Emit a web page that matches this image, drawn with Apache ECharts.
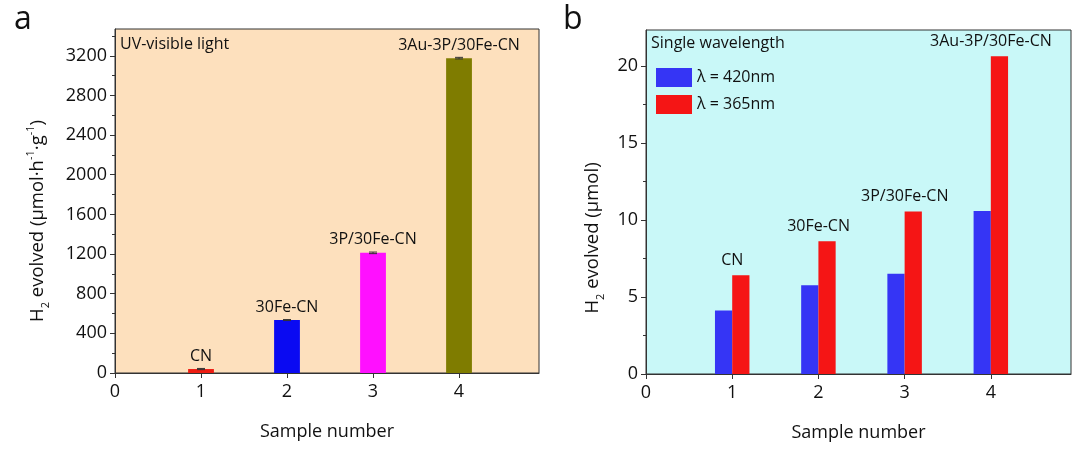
<!DOCTYPE html>
<html><head><meta charset="utf-8">
<script src="https://cdn.jsdelivr.net/npm/echarts@6/dist/echarts.min.js"></script>
<style>html,body{margin:0;padding:0;background:#fff}#c{width:1084px;height:450px}</style>
</head><body><div id="c"></div>
<script>
// ---- data ----
const sampleA = [1, 2, 3, 4];
const namesA = ['CN', '30Fe-CN', '3P/30Fe-CN', '3Au-3P/30Fe-CN'];
const valuesA = [40, 534, 1212, 3176];
const errorsA = [6, 5, 8, 8];
const colorsA = ['#ee1c12', '#0a0af2', '#ff10ff', '#7f7c00'];

const sampleB = [1, 2, 3, 4];
const namesB = ['CN', '30Fe-CN', '3P/30Fe-CN', '3Au-3P/30Fe-CN'];
const blue420 = [4.13, 5.76, 6.52, 10.59];
const red365 = [6.41, 8.63, 10.55, 20.64];
const legendNames = ['λ = 420nm', 'λ = 365nm'];

const xTicks = [0, 1, 2, 3, 4];
const yTicksA = [0, 400, 800, 1200, 1600, 2000, 2400, 2800, 3200];
const yTicksB = [0, 5, 10, 15, 20];

// ---- chart ----
const FONT = 'Open Sans';
const chart = echarts.init(document.getElementById('c'), null, {renderer: 'canvas'});

function xAxisCfg(gridIndex) {
  return {
    type: 'value', gridIndex, min: 0, max: 4.93, interval: 1,
    name: 'Sample number', nameLocation: 'middle', nameGap: 50,
    nameTextStyle: {fontFamily: FONT, fontSize: 18, color: '#111'},
    axisLine: {show: true, lineStyle: {color: '#333', width: 1}},
    axisTick: {show: true, length: 5, inside: false, customValues: xTicks, lineStyle: {color: '#333'}},
    axisLabel: {customValues: xTicks, margin: 10, fontFamily: FONT, fontSize: 18, color: '#111',
      formatter: v => String(v)},
    splitLine: {show: false}
  };
}
function yAxisCfg(gridIndex, max, interval, ticks) {
  return {
    type: 'value', gridIndex, min: 0, max, interval,
    axisLine: {show: true, lineStyle: {color: '#333', width: 1}},
    axisTick: {show: true, length: 5, inside: false, customValues: ticks, lineStyle: {color: '#333'}},
    minorTick: {show: true, splitNumber: 2, length: 3, lineStyle: {color: '#333'}},
    axisLabel: {customValues: ticks, margin: 8, fontFamily: FONT, fontSize: 18, color: '#111',
      formatter: v => String(v)},
    splitLine: {show: false}, minorSplitLine: {show: false}
  };
}

const errRender = function (params, api) {
  const x = api.value(0), y = api.value(1), e = api.value(2);
  const t = api.coord([x, y + e]);
  const b = api.coord([x, y - e]);
  const w = 4;
  const st = {stroke: '#333', lineWidth: 1};
  return {type: 'group', children: [
    {type: 'line', shape: {x1: t[0], y1: t[1], x2: b[0], y2: b[1]}, style: st},
    {type: 'line', shape: {x1: t[0] - w, y1: t[1], x2: t[0] + w, y2: t[1]}, style: st},
    {type: 'line', shape: {x1: b[0] - w, y1: b[1], x2: b[0] + w, y2: b[1]}, style: st}
  ]};
};

const labelStyle = {fontFamily: FONT, fontSize: 16, color: '#111'};

const option = {
  animation: false,
  backgroundColor: '#fff',
  grid: [
    {left: 115, top: 29, right: 545, bottom: 77, show: true, backgroundColor: '#fde0bd', borderColor: '#333', borderWidth: 1},
    {left: 646, top: 30, right: 13, bottom: 76, show: true, backgroundColor: '#c9f8f8', borderColor: '#333', borderWidth: 1}
  ],
  xAxis: [xAxisCfg(0), xAxisCfg(1)],
  yAxis: [yAxisCfg(0, 3470, 400, yTicksA), yAxisCfg(1, 22.35, 5, yTicksB)],
  legend: {
    data: legendNames, orient: 'vertical', left: 651, top: 63, itemGap: 8,
    itemWidth: 36, itemHeight: 19, icon: 'rect',
    textStyle: {fontFamily: FONT, fontSize: 16, color: '#111'}
  },
  series: [
    {
      type: 'bar', name: 'UV-visible', xAxisIndex: 0, yAxisIndex: 0, barWidth: '30%',
      data: sampleA.map((s, i) => ({value: [s, valuesA[i]], itemStyle: {color: colorsA[i]}})),
      label: {show: true, position: 'top', distance: 5, ...labelStyle,
        formatter: p => namesA[p.dataIndex]}
    },
    {
      type: 'custom', xAxisIndex: 0, yAxisIndex: 0, renderItem: errRender, z: 5,
      data: sampleA.map((s, i) => [s, valuesA[i], errorsA[i]])
    },
    {
      type: 'bar', name: legendNames[0], xAxisIndex: 1, yAxisIndex: 1, barWidth: '20%', barGap: '0%',
      itemStyle: {color: '#3535f5'},
      data: sampleB.map((s, i) => [s, blue420[i]])
    },
    {
      type: 'bar', name: legendNames[1], xAxisIndex: 1, yAxisIndex: 1, barWidth: '20%', barGap: '0%',
      itemStyle: {color: '#f51515'},
      data: sampleB.map((s, i) => [s, red365[i]]),
      label: {show: true, position: 'top', distance: 7, offset: [-8.5, 0], ...labelStyle,
        formatter: p => namesB[p.dataIndex]}
    }
  ],
  graphic: [
    {type: 'text', left: 14, top: 4, style: {text: 'a', font: '32px "Open Sans"', fill: '#111'}},
    {type: 'text', left: 563, top: 4, style: {text: 'b', font: '32px "Open Sans"', fill: '#111'}},
    {type: 'text', left: 120, top: 36, style: {text: 'UV-visible light', font: '16px "Open Sans"', fill: '#111'}},
    {type: 'text', left: 651, top: 35, style: {text: 'Single wavelength', font: '16px "Open Sans"', fill: '#111'}},
    {type: 'text', x: 38, y: 221, rotation: Math.PI / 2, z: 10,
      style: {
        text: '{m|H}{s|2}{m| evolved (μmol·h}{p|-1}{m|·g}{p|-1}{m|)}',
        align: 'center', verticalAlign: 'middle', fill: '#111',
        rich: {
          m: {fontFamily: FONT, fontSize: 18.5, lineHeight: 26, verticalAlign: 'middle', fill: '#111'},
          s: {fontFamily: FONT, fontSize: 11, lineHeight: 26, verticalAlign: 'bottom', fill: '#111'},
          p: {fontFamily: FONT, fontSize: 11, lineHeight: 26, verticalAlign: 'top', fill: '#111'}
        }
      }},
    {type: 'text', x: 593, y: 238, rotation: Math.PI / 2, z: 10,
      style: {
        text: '{m|H}{s|2}{m| evolved (μmol)}',
        align: 'center', verticalAlign: 'middle', fill: '#111',
        rich: {
          m: {fontFamily: FONT, fontSize: 18.5, lineHeight: 26, verticalAlign: 'middle', fill: '#111'},
          s: {fontFamily: FONT, fontSize: 11, lineHeight: 26, verticalAlign: 'bottom', fill: '#111'}
        }
      }}
  ]
};
chart.setOption(option);
</script>
</body></html>
